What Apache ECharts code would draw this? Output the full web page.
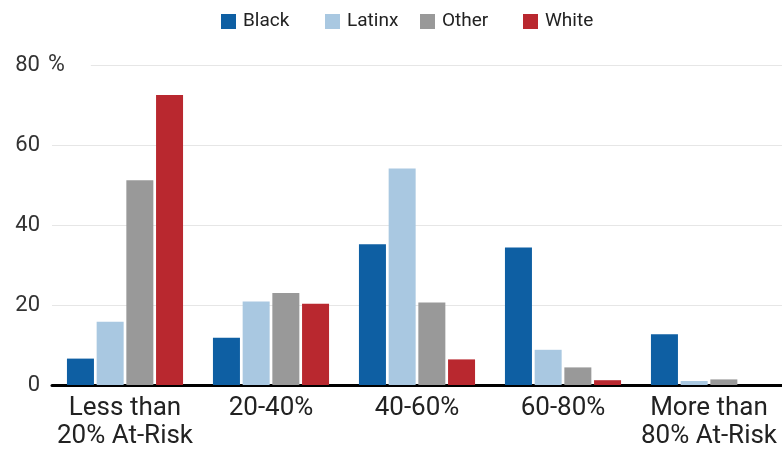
<!DOCTYPE html>
<html>
<head>
<meta charset="utf-8">
<script src="https://cdn.jsdelivr.net/npm/echarts@6/dist/echarts.min.js"></script>
<style>
  html, body { margin: 0; padding: 0; background: #fff; }
  #chart { width: 782px; height: 450px; }
</style>
</head>
<body>
<div id="chart"></div>
<script>
// Share of students by school at-risk level, by race/ethnicity (%)
const categories = ['Less than\n20% At-Risk', '20-40%', '40-60%', '60-80%', 'More than\n80% At-Risk'];
const black  = [6.6, 11.8, 35.2, 34.4, 12.7];
const latinx = [15.8, 20.9, 54.1, 8.8, 1.0];
const other  = [51.2, 23.0, 20.6, 4.4, 1.4];
const white  = [72.5, 20.3, 6.4, 1.2, 0];
const yTicks = [0, 20, 40, 60, 80];

const seriesNames = ['Black', 'Latinx', 'Other', 'White'];
const seriesData = [black, latinx, other, white];
const colors = ['#0e5fa3', '#a9c8e1', '#999999', '#b9282f'];
const legendLeft = [221, 325, 420, 523];

const font = 'Roboto, "Noto Sans", sans-serif';

const chart = echarts.init(document.getElementById('chart'), null, { renderer: 'canvas' });

chart.setOption({
  animation: false,
  color: colors,
  legend: seriesNames.map((name, i) => ({
    data: [name],
    left: legendLeft[i],
    top: 12,
    itemWidth: 15,
    itemHeight: 15,
    itemGap: 0,
    icon: 'rect',
    padding: 0,
    textStyle: { fontFamily: font, fontSize: 19, color: '#222', padding: [0, 0, 0, 2] }
  })),
  grid: { left: 52, right: -5, top: 65, bottom: 65 },
  xAxis: {
    type: 'category',
    data: categories,
    axisLine: { show: true, lineStyle: { color: '#000', width: 3 } },
    axisTick: { show: false },
    axisLabel: {
      fontFamily: font, fontSize: 26, lineHeight: 28, color: '#222', margin: 9,
      interval: 0
    }
  },
  yAxis: {
    type: 'value',
    min: yTicks[0],
    max: yTicks[yTicks.length - 1],
    interval: 20,
    axisLine: { show: false },
    axisTick: { show: false },
    splitLine: { lineStyle: { color: '#e6e6e6', width: 1 } },
    axisLabel: {
      align: 'left',
      margin: 37,
      color: '#333',
      fontFamily: font,
      fontSize: 22,
      formatter: v => v === yTicks[yTicks.length - 1] ? '{n|' + v + '}{p|%}' : '{n|' + v + '}',
      rich: {
        n: { fontFamily: font, fontSize: 22, color: '#333', width: 25, align: 'right' },
        p: { fontFamily: font, fontSize: 23, color: '#333', padding: [0, 26, 0, 8], backgroundColor: '#fff' }
      }
    }
  },
  series: seriesNames.map((name, i) => ({
    name,
    type: 'bar',
    data: seriesData[i],
    barWidth: 27,
    barGap: '10%',
    itemStyle: { color: colors[i] }
  }))
});
</script>
</body>
</html>
